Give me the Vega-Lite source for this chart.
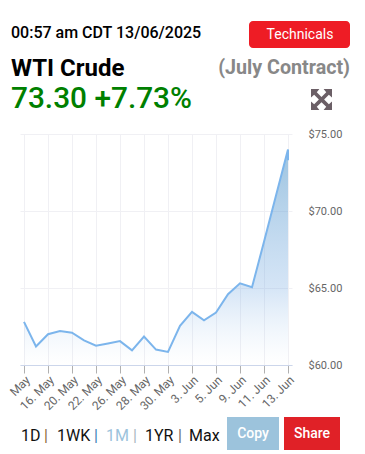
{"$schema":"https://vega.github.io/schema/vega-lite/v6.json","autosize":{"type":"none"},"width":272,"height":231,"padding":{"left":20,"top":134,"right":73,"bottom":89},"background":"#ffffff","config":{"view":{"stroke":null},"font":"Roboto"},
"datasets":{"prices":[
{"seq":0,"date":"14. May","price":62.8},{"seq":1,"date":"15. May","price":61.2},{"seq":2,"date":"16. May","price":62.0},{"seq":3,"date":"19. May","price":62.2},{"seq":4,"date":"20. May","price":62.1},{"seq":5,"date":"21. May","price":61.6},{"seq":6,"date":"22. May","price":61.25},{"seq":7,"date":"23. May","price":61.4},{"seq":8,"date":"26. May","price":61.55},{"seq":9,"date":"27. May","price":60.95},{"seq":10,"date":"28. May","price":61.85},{"seq":11,"date":"29. May","price":61.0},{"seq":12,"date":"30. May","price":60.85},{"seq":13,"date":"2. Jun","price":62.55},{"seq":14,"date":"3. Jun","price":63.45},{"seq":15,"date":"4. Jun","price":62.9},{"seq":16,"date":"5. Jun","price":63.4},{"seq":17,"date":"6. Jun","price":64.6},{"seq":18,"date":"9. Jun","price":65.3},{"seq":19,"date":"10. Jun","price":65.05},{"seq":20,"date":"11. Jun","price":68.0},{"seq":21,"date":"12. Jun","price":71.0},{"seq":22,"date":"13. Jun","price":74.0},{"seq":23,"date":"13. Jun","price":73.3}]},
"layer":[
{"data":{"name":"prices"},"mark":{"type":"area","fill":{"x1":0,"y1":0,"x2":0,"y2":1,"gradient":"linear","stops":[{"offset":0,"color":"rgba(75,146,197,0.55)"},{"offset":0.64,"color":"rgba(115,168,225,0.3)"},{"offset":1,"color":"rgba(180,210,240,0)"}]}},
"encoding":{"x":{"field":"date","type":"ordinal","sort":null,"scale":{"type":"point","padding":0.333},
"axis":{"values":["14. May","16. May","20. May","22. May","26. May","28. May","30. May","3. Jun","5. Jun","9. Jun","11. Jun","13. Jun"],"labelExpr":"datum.label == '14. May' ? 'May' : datum.label","title":null,"grid":true,"gridColor":"#f0f0f4","gridWidth":1,"domainColor":"#ccd6eb","domainWidth":1,"tickColor":"#b0b0b0","tickSize":8,"labelAngle":-45,"labelAlign":"right","labelBaseline":"top","labelColor":"#666666","labelFont":"Roboto","labelFontSize":12,"labelPadding":1,"labelOverlap":false,"labelBound":false,"labelFlush":false}},
"y":{"field":"price","type":"quantitative","scale":{"domain":[60,75],"nice":false,"zero":false},"axis":{"orient":"right","values":[60,65,70,75],"format":"$.2f","title":null,"grid":true,"gridColor":"#f0f0f4","domain":false,"ticks":false,"labelColor":"#666666","labelFont":"Roboto","labelFontSize":11,"labelPadding":16}},"y2":{"datum":60}}},
{"data":{"name":"prices"},"mark":{"type":"line","color":"#7cb5ec","strokeWidth":2},"encoding":{"x":{"field":"date","type":"ordinal","sort":null},"y":{"field":"price","type":"quantitative"}}},
{"data":{"values":[{"t":"00:57 am CDT 13/06/2025"}]},"mark":{"type":"text","x":-9,"y":-101,"align":"left","baseline":"middle","fontSize":16,"fontWeight":500,"color":"#000000"},"encoding":{"text":{"field":"t"}}},
{"data":{"values":[{"t":"WTI Crude"}]},"mark":{"type":"text","x":-9,"y":-65,"align":"left","baseline":"middle","fontSize":24,"fontWeight":700,"color":"#000000"},"encoding":{"text":{"field":"t"}}},
{"data":{"values":[{"t":"(July Contract)"}]},"mark":{"type":"text","x":330,"y":-66,"align":"right","baseline":"middle","fontSize":19.7,"fontWeight":700,"color":"#888888"},"encoding":{"text":{"field":"t"}}},
{"data":{"values":[{"t":"73.30 +7.73%"}]},"mark":{"type":"text","x":-9,"y":-35,"align":"left","baseline":"middle","fontSize":29.8,"fontWeight":500,"color":"#008000"},"encoding":{"text":{"field":"t"}}},
{"data":{"values":[{"t":"button"}]},"mark":{"type":"rect","x":229,"x2":330,"y":-113,"y2":-86,"cornerRadius":4,"fill":"#ee1c25"}},
{"data":{"values":[{"t":"Technicals"}]},"mark":{"type":"text","x":280,"y":-99.5,"align":"center","baseline":"middle","fontSize":14,"color":"#ffffff"},"encoding":{"text":{"field":"t"}}},
{"data":{"values":[{"t":"expand"}]},"mark":{"type":"point","x":301.5,"y":-34.5,"size":441,"filled":true,"opacity":1,"color":"#6b5f66","shape":"M-1,-1 L-0.2,-1 L-0.45,-0.7 L0,-0.25 L0.45,-0.7 L0.2,-1 L1,-1 L1,-0.2 L0.7,-0.45 L0.25,0 L0.7,0.45 L1,0.2 L1,1 L0.2,1 L0.45,0.7 L0,0.25 L-0.45,0.7 L-0.2,1 L-1,1 L-1,0.2 L-0.7,0.45 L-0.25,0 L-0.7,-0.45 L-1,-0.2 Z"}},
{"data":{"values":[{"t":"1D"}]},"mark":{"type":"text","x":1,"y":302,"align":"left","baseline":"middle","fontSize":16,"color":"#111111"},"encoding":{"text":{"field":"t"}}},
{"data":{"values":[{"t":"|"}]},"mark":{"type":"text","x":26,"y":302,"align":"center","baseline":"middle","fontSize":16,"color":"#8a6a3a"},"encoding":{"text":{"field":"t"}}},
{"data":{"values":[{"t":"1WK"}]},"mark":{"type":"text","x":37,"y":302,"align":"left","baseline":"middle","fontSize":16,"color":"#111111"},"encoding":{"text":{"field":"t"}}},
{"data":{"values":[{"t":"|"}]},"mark":{"type":"text","x":76,"y":302,"align":"center","baseline":"middle","fontSize":16,"color":"#3f7fb5"},"encoding":{"text":{"field":"t"}}},
{"data":{"values":[{"t":"1M"}]},"mark":{"type":"text","x":86,"y":302,"align":"left","baseline":"middle","fontSize":16,"color":"#9cc3dc"},"encoding":{"text":{"field":"t"}}},
{"data":{"values":[{"t":"|"}]},"mark":{"type":"text","x":115,"y":302,"align":"center","baseline":"middle","fontSize":16,"color":"#a8b8c0"},"encoding":{"text":{"field":"t"}}},
{"data":{"values":[{"t":"1YR"}]},"mark":{"type":"text","x":125,"y":302,"align":"left","baseline":"middle","fontSize":16,"color":"#111111"},"encoding":{"text":{"field":"t"}}},
{"data":{"values":[{"t":"|"}]},"mark":{"type":"text","x":160,"y":302,"align":"center","baseline":"middle","fontSize":16,"color":"#6a6a6a"},"encoding":{"text":{"field":"t"}}},
{"data":{"values":[{"t":"Max"}]},"mark":{"type":"text","x":169,"y":302,"align":"left","baseline":"middle","fontSize":16,"color":"#111111"},"encoding":{"text":{"field":"t"}}},
{"data":{"values":[{"t":"button"}]},"mark":{"type":"rect","x":207,"x2":259,"y":283,"y2":316,"fill":"#9cc3dc"}},
{"data":{"values":[{"t":"button"}]},"mark":{"type":"rect","x":264,"x2":320,"y":283,"y2":316,"fill":"#e02127"}},
{"data":{"values":[{"t":"Copy"}]},"mark":{"type":"text","x":233,"y":300,"align":"center","baseline":"middle","fontSize":14,"fontWeight":500,"color":"#ffffff"},"encoding":{"text":{"field":"t"}}},
{"data":{"values":[{"t":"Share"}]},"mark":{"type":"text","x":292,"y":300,"align":"center","baseline":"middle","fontSize":14,"fontWeight":500,"color":"#ffffff"},"encoding":{"text":{"field":"t"}}}
]}
